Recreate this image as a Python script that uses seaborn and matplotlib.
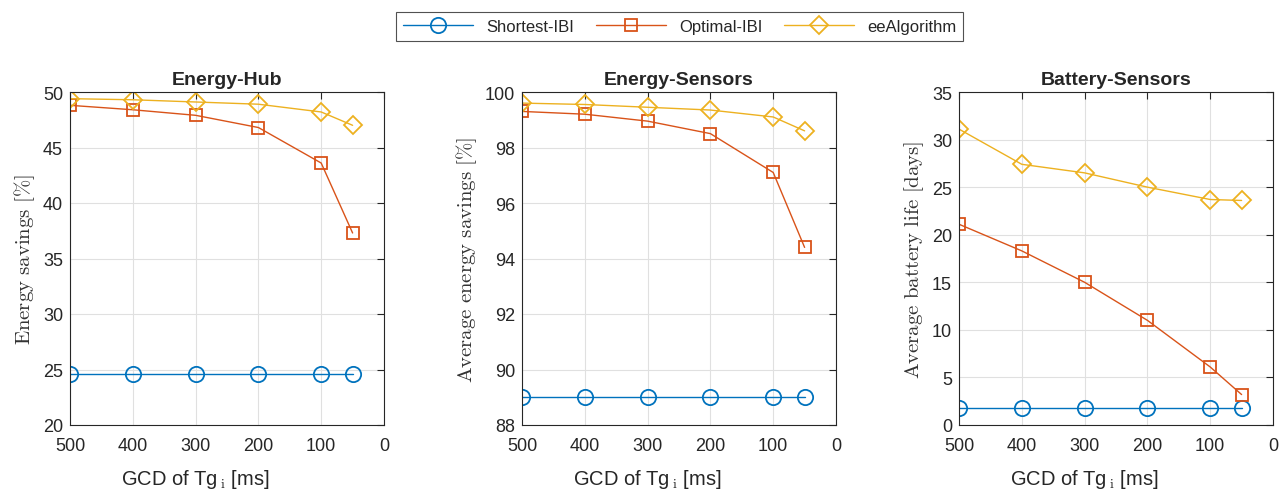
import numpy as np
import pandas as pd
import matplotlib
matplotlib.use("Agg")
import matplotlib.pyplot as plt
import seaborn as sns

# ================================
# DATA
# ================================

gcd_ms = [500, 400, 300, 200, 100, 50]
series_names = ["Shortest-IBI", "Optimal-IBI", "eeAlgorithm"]

hub_shortest = [24.6, 24.6, 24.6, 24.6, 24.6, 24.6]
hub_optimal = [48.8, 48.4, 47.9, 46.8, 43.6, 37.3]
hub_ee = [49.4, 49.3, 49.1, 48.9, 48.2, 47.0]

sens_shortest = [89.0, 89.0, 89.0, 89.0, 89.0, 89.0]
sens_optimal = [99.3, 99.2, 98.95, 98.5, 97.1, 94.4]
sens_ee = [99.6, 99.55, 99.45, 99.35, 99.1, 98.6]

batt_shortest = [1.8, 1.8, 1.8, 1.8, 1.8, 1.8]
batt_optimal = [21.1, 18.3, 15.0, 11.0, 6.1, 3.2]
batt_ee = [31.1, 27.4, 26.5, 25.0, 23.7, 23.6]

titles = ["Energy-Hub", "Energy-Sensors", "Battery-Sensors"]
ylabels = [r"$\mathrm{Energy\ savings\ [\%]}$",
           r"$\mathrm{Average\ energy\ savings\ [\%]}$",
           r"$\mathrm{Average\ battery\ life\ [days]}$"]
ylims = [(20, 50), (88, 100), (0, 35)]
yticks = [np.arange(20, 51, 5), np.arange(88, 101, 2), np.arange(0, 36, 5)]

panels = [
    [hub_shortest, hub_optimal, hub_ee],
    [sens_shortest, sens_optimal, sens_ee],
    [batt_shortest, batt_optimal, batt_ee],
]

colors = ["#0072BD", "#D95319", "#EDB120"]
markers = ["o", "s", "D"]
msizes = [11, 8, 9.5]

# ================================
# STYLE
# ================================

sns.set_style("white")
plt.rcParams["font.family"] = ["Liberation Sans", "DejaVu Sans"]
plt.rcParams["mathtext.fontset"] = "cm"

fig = plt.figure(figsize=(12.86, 5.02), dpi=100)
W, H = 1286, 502
lefts = [70, 522, 959]
width = 314
top, bottom = 93, 426

handles = []
for i, ys in enumerate(panels):
    ax = fig.add_axes([lefts[i] / W, 1 - bottom / H, width / W, (bottom - top) / H])
    for j, name in enumerate(series_names):
        df = pd.DataFrame({"x": gcd_ms, "y": ys[j]})
        sns.lineplot(data=df, x="x", y="y", ax=ax, color=colors[j], lw=1,
                     marker=markers[j], markersize=msizes[j],
                     markerfacecolor="none", markeredgecolor=colors[j],
                     markeredgewidth=1.3, legend=False)
    ax.set_xlim(500, 0)
    ax.set_xticks([500, 400, 300, 200, 100, 0])
    ax.set_ylim(*ylims[i])
    ax.set_yticks(yticks[i])
    ax.grid(True, color="#e0e0e0", lw=0.8)
    ax.tick_params(direction="in", labelsize=13, top=True, right=True,
                   length=5, colors="#262626")
    ax.tick_params(axis="x", pad=9)
    ax.tick_params(axis="y", pad=5)
    for s in ax.spines.values():
        s.set_color("#262626")
        s.set_linewidth(0.8)
    ax.set_title(titles[i], fontsize=14, fontweight="bold", pad=6)
    ax.set_ylabel(ylabels[i], fontsize=15, color="#333333", labelpad=4)
    ax.set_xlabel(r"GCD of Tg$_{\,\mathrm{i}}$ [ms]", fontsize=14.5,
                  color="#262626")
    ax.xaxis.set_label_coords(0.4, -0.125)
    if i == 0:
        handles = ax.get_lines()[:3]

leg = fig.legend(handles, series_names, loc="upper center", ncol=3,
                 bbox_to_anchor=(0.5285, 0.99), frameon=True, fontsize=12,
                 handlelength=4.2, columnspacing=1.3, handletextpad=0.8,
                 fancybox=False, borderpad=0.4)
leg.get_frame().set_edgecolor("#262626")
leg.get_frame().set_linewidth(0.8)

fig.savefig("out.png", dpi=100)
